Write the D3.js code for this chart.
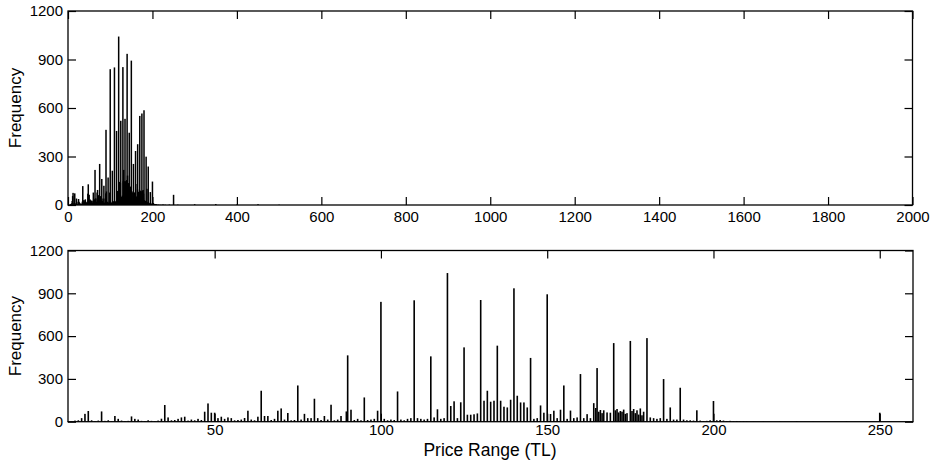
<!DOCTYPE html>
<html>
<head>
<meta charset="utf-8">
<script src="https://cdn.jsdelivr.net/npm/d3@7"></script>
<style>
  body { margin: 0; background: #fff; }
  svg text { font-family: "Liberation Sans", Arial, sans-serif; fill: #000; }
</style>
</head>
<body>
<svg id="chart" width="940" height="467"></svg>
<script>
// price (TL) / frequency pairs

// tall spikes at round prices
var peaks = [
    [35, 117], [48, 128], [64, 217], [75, 254], [80, 161], [85, 119], [90, 465], [95, 170],
    [100, 840], [105, 212], [110, 851], [115, 458], [120, 1042], [125, 521], [130, 853],
    [135, 533], [140, 935], [145, 447], [150, 893], [155, 254], [160, 334], [165, 376],
    [170, 551], [175, 566], [180, 586], [185, 299], [190, 238], [195, 80], [200, 145], [250, 63]
];

// the small bars in between
var minor = [
    [6, 5], [7, 3], [8, 8], [9, 10], [10, 25], [11, 55], [12, 75], [13, 10], [14, 5], [15, 8],
    [16, 72], [17, 6], [18, 10], [19, 4], [20, 40], [21, 20], [22, 8], [23, 5], [24, 6], [25, 37],
    [26, 20], [27, 15], [28, 6], [29, 5], [30, 10], [31, 6], [32, 4], [33, 8], [34, 21], [36, 30],
    [37, 10], [38, 12], [39, 20], [40, 30], [41, 35], [42, 8], [43, 15], [44, 10], [45, 20], [46, 12],
    [47, 70], [49, 63], [50, 63], [51, 25], [52, 35], [53, 20], [54, 30], [55, 25], [56, 10], [57, 12],
    [58, 15], [59, 26], [60, 77], [61, 15], [62, 10], [63, 35], [65, 40], [66, 40], [67, 12], [68, 20],
    [69, 77], [70, 93], [71, 15], [72, 61], [73, 10], [74, 12], [76, 15], [77, 55], [78, 25], [79, 25],
    [81, 25], [82, 12], [83, 40], [84, 15], [86, 10], [87, 15], [88, 40], [89.6, 72], [91, 84], [92, 12],
    [93, 20], [94, 10], [96, 12], [97, 15], [98, 20], [99, 77], [101, 20], [102, 10], [103, 15], [104, 12],
    [106, 15], [107, 10], [108, 20], [109, 25], [111, 25], [112, 20], [113, 15], [114, 20], [116, 30],
    [117, 87], [118, 20], [119, 25], [121, 110], [122, 143], [123, 25], [124, 136], [126, 49], [127, 49],
    [128, 52], [129, 58], [131, 147], [132, 217], [133, 140], [134, 147], [136, 147], [137, 105],
    [138, 100], [139, 154], [141, 182], [142, 135], [143, 135], [144, 100], [146, 20], [147, 25],
    [148, 114], [149, 63], [151, 54], [152, 77], [153, 25], [154, 84], [156, 20], [157, 78], [158, 25],
    [159, 30], [161, 25], [162, 53], [163, 25], [164, 130], [164.6, 96], [165.5, 70], [166, 82],
    [166.5, 60], [167, 80], [168, 65], [169, 63], [170.5, 80], [171, 89], [171.5, 65], [172, 75],
    [172.5, 70], [173, 85], [173.5, 55], [174, 60], [175.5, 75], [176, 89], [176.5, 60], [177, 80],
    [177.5, 50], [178, 93], [178.5, 45], [179, 70], [181, 30], [182, 25], [183, 20], [184, 25],
    [186, 20], [187, 100], [188, 15], [189, 15], [191, 15], [192, 10], [193, 10], [194, 8], [196, 8],
    [197, 5], [198, 6], [199, 10], [201, 10], [202, 12], [203, 8], [204, 5], [205, 6], [206, 4],
    [207, 5], [208, 3], [209, 4], [210, 3]
];

// sparse tail above 210 TL
var tail = [
    [212, 2], [215, 3], [220, 2], [225, 4], [230, 2], [240, 3], [260, 2],
    [300, 5], [350, 6], [400, 3], [450, 5], [500, 2]
];

var yTicks = [0, 300, 600, 900, 1200];
var topXTicks = d3.range(0, 2001, 200);
var bottomXTicks = [50, 100, 150, 200, 250];

var bins = peaks.concat(minor, tail);
var svg = d3.select("#chart");
var TICK = 8;
var fmt = d3.format("d");

function panel(opt) {
    var x = d3.scaleLinear().domain(opt.xDomain).range([opt.left, opt.right]);
    var y = d3.scaleLinear().domain([0, 1200]).range([opt.bottom, opt.top]);
    var g = svg.append("g");

    var shown = bins.filter(function(d) {
        return d[0] >= opt.xDomain[0] && d[0] <= opt.xDomain[1];
    });
    g.append("g").selectAll("rect").data(shown).enter().append("rect")
        .attr("x", function(d) { return x(d[0]) - opt.barW / 2; })
        .attr("y", function(d) { return y(d[1]); })
        .attr("width", opt.barW)
        .attr("height", function(d) { return y(0) - y(d[1]); })
        .attr("fill", "#000");

    // labelled axes, ticks pointing in
    var bx = g.append("g").attr("transform", "translate(0," + opt.bottom + ")")
        .call(d3.axisBottom(x).tickValues(opt.xTicks).tickFormat(fmt).tickSizeInner(-TICK).tickSizeOuter(0).tickPadding(opt.xPad));
    var ly = g.append("g").attr("transform", "translate(" + opt.left + ",0)")
        .call(d3.axisLeft(y).tickValues(yTicks).tickFormat(fmt).tickSizeInner(-TICK).tickSizeOuter(0).tickPadding(5));
    // mirrored ticks on top / right
    var tx = g.append("g").attr("transform", "translate(0," + opt.top + ")")
        .call(d3.axisTop(x).tickValues(opt.xTicks).tickSizeInner(-TICK).tickSizeOuter(0).tickFormat(""));
    var ry = g.append("g").attr("transform", "translate(" + opt.right + ",0)")
        .call(d3.axisRight(y).tickValues(yTicks).tickSizeInner(-TICK).tickSizeOuter(0).tickFormat(""));

    [bx, ly, tx, ry].forEach(function(a) {
        a.select(".domain").remove();
        a.selectAll("line").attr("stroke", "#000").attr("stroke-width", 1.2);
        a.selectAll("text").attr("font-size", "15px").attr("font-family", "Liberation Sans, Arial, sans-serif").attr("fill", "#000");
    });

    g.append("rect")
        .attr("x", opt.left).attr("y", opt.top)
        .attr("width", opt.right - opt.left).attr("height", opt.bottom - opt.top)
        .attr("fill", "none").attr("stroke", "#000").attr("stroke-width", 1.3);

    g.append("text")
        .attr("transform", "translate(21," + ((opt.top + opt.bottom) / 2) + ") rotate(-90)")
        .attr("text-anchor", "middle")
        .attr("font-size", "17px")
        .text("Frequency");
    return x;
}

panel({ xDomain: [0, 2000], left: 68, right: 912.5, top: 11, bottom: 205, xTicks: topXTicks, xPad: 6, barW: 1.5 });
panel({ xDomain: [5.9, 260], left: 68, right: 913, top: 250.5, bottom: 421.7, xTicks: bottomXTicks, xPad: 3, barW: 1.6 });

svg.append("text")
    .attr("x", 490).attr("y", 456)
    .attr("text-anchor", "middle")
    .attr("font-size", "17.5px")
    .text("Price Range (TL)");
</script>
</body>
</html>
